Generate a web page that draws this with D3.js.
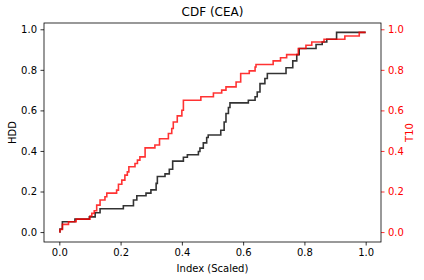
<!DOCTYPE html>
<html>
<head>
<meta charset="utf-8">
<script src="https://cdn.jsdelivr.net/npm/d3@7"></script>
<style>
  body { margin: 0; background: #fff; }
  svg { font-family: 'DejaVu Sans', sans-serif; }
</style>
</head>
<body>
<div id="chart"></div>
<script>
// step CDF points (x = scaled index, y = cumulative share)
const hddX = [0.0, 0.002, 0.01, 0.051, 0.098, 0.117, 0.133, 0.209, 0.242, 0.253, 0.283, 0.299, 0.316, 0.32, 0.345, 0.359, 0.37, 0.405, 0.418, 0.454, 0.459, 0.47, 0.481, 0.486, 0.527, 0.538, 0.544, 0.552, 0.557, 0.617, 0.639, 0.646, 0.655, 0.671, 0.679, 0.74, 0.762, 0.775, 0.783, 0.838, 0.858, 0.873, 0.905, 1.0]
const hddY = [0.0, 0.015, 0.051, 0.064, 0.075, 0.095, 0.115, 0.13, 0.158, 0.179, 0.192, 0.208, 0.24, 0.274, 0.287, 0.31, 0.35, 0.369, 0.381, 0.397, 0.414, 0.44, 0.466, 0.479, 0.502, 0.543, 0.585, 0.614, 0.637, 0.65, 0.667, 0.691, 0.732, 0.757, 0.782, 0.81, 0.844, 0.875, 0.905, 0.925, 0.937, 0.951, 0.985, 0.985]

const t10X = [0.0, 0.002, 0.01, 0.03, 0.055, 0.1, 0.106, 0.114, 0.122, 0.133, 0.149, 0.155, 0.187, 0.193, 0.204, 0.214, 0.222, 0.227, 0.247, 0.255, 0.263, 0.28, 0.312, 0.327, 0.356, 0.367, 0.372, 0.385, 0.4, 0.405, 0.462, 0.503, 0.53, 0.544, 0.577, 0.592, 0.62, 0.639, 0.642, 0.698, 0.722, 0.742, 0.78, 0.805, 0.824, 0.864, 0.932, 0.979, 1.0]
const t10Y = [0.0, 0.013, 0.038, 0.051, 0.064, 0.079, 0.092, 0.105, 0.133, 0.158, 0.174, 0.192, 0.207, 0.236, 0.256, 0.281, 0.297, 0.322, 0.338, 0.355, 0.371, 0.415, 0.429, 0.46, 0.486, 0.511, 0.543, 0.573, 0.601, 0.65, 0.667, 0.686, 0.7, 0.716, 0.74, 0.782, 0.795, 0.814, 0.826, 0.844, 0.86, 0.875, 0.905, 0.921, 0.937, 0.951, 0.967, 0.985, 0.985]

const xTicks = [0, 0.2, 0.4, 0.6, 0.8, 1.0]
const yTicks = [0, 0.2, 0.4, 0.6, 0.8, 1.0]

const W = 424, H = 280
const margin = { top: 23, right: 43, bottom: 38, left: 44 }
const width = W - margin.left - margin.right
const height = H - margin.top - margin.bottom

const svg = d3.select('#chart').append('svg')
    .attr('width', W)
    .attr('height', H)

const g = svg.append('g')
    .attr('transform', `translate(${margin.left},${margin.top})`)

let x = d3.scaleLinear().domain([-0.05, 1.05]).range([0, width])
let yL = d3.scaleLinear().domain([-0.049, 1.031]).range([height, 0])
let yR = d3.scaleLinear().domain([-0.049, 1.031]).range([height, 0])

const fmt = d3.format('.1f')

// lines
const hdd = hddX.map((v, i) => [v, hddY[i]])
const t10 = t10X.map((v, i) => [v, t10Y[i]])

const lineL = d3.line().x(d => x(d[0])).y(d => yL(d[1])).curve(d3.curveStepAfter)
const lineR = d3.line().x(d => x(d[0])).y(d => yR(d[1])).curve(d3.curveStepAfter)

g.append('path').datum(hdd)
    .attr('d', lineL)
    .attr('fill', 'none')
    .attr('stroke', 'black')
    .attr('stroke-opacity', 0.8)
    .attr('stroke-width', 1.6)

g.append('path').datum(t10)
    .attr('d', lineR)
    .attr('fill', 'none')
    .attr('stroke', 'red')
    .attr('stroke-opacity', 0.8)
    .attr('stroke-width', 1.6)

// axes
let bottomAxis = d3.axisBottom(x).tickValues(xTicks).tickFormat(fmt).tickSizeOuter(0).tickSize(3.5).tickPadding(3.5)
let leftAxis = d3.axisLeft(yL).tickValues(yTicks).tickFormat(fmt).tickSizeOuter(0).tickSize(3.5).tickPadding(3.5)
let rightAxis = d3.axisRight(yR).tickValues(yTicks).tickFormat(fmt).tickSizeOuter(0).tickSize(3.5).tickPadding(3.5)

const gx = g.append('g').attr('transform', `translate(0,${height})`).call(bottomAxis)
const gl = g.append('g').call(leftAxis)
const gr = g.append('g').attr('transform', `translate(${width},0)`).call(rightAxis)

;[gx, gl, gr].forEach(a => {
    a.selectAll('text').attr('font-size', 10).attr('font-family', 'DejaVu Sans')
    a.selectAll('line').attr('stroke-width', 0.8)
    a.select('.domain').remove()
})
gx.selectAll('text').attr('fill', '#000')
gl.selectAll('text').attr('fill', '#000')
gr.selectAll('text').attr('fill', 'red')
gr.selectAll('line').attr('stroke', 'red')

// frame
g.append('rect')
    .attr('width', width)
    .attr('height', height)
    .attr('fill', 'none')
    .attr('stroke', 'black')
    .attr('stroke-width', 0.8)

// labels
svg.append('text')
    .attr('x', margin.left + width / 2)
    .attr('y', 16)
    .attr('text-anchor', 'middle')
    .attr('font-size', 12)
    .text('CDF (CEA)')

svg.append('text')
    .attr('x', margin.left + width / 2)
    .attr('y', 272)
    .attr('text-anchor', 'middle')
    .attr('font-size', 10)
    .text('Index (Scaled)')

svg.append('text')
    .attr('transform', `translate(16,${margin.top + height / 2}) rotate(-90)`)
    .attr('text-anchor', 'middle')
    .attr('font-size', 10)
    .text('HDD')

svg.append('text')
    .attr('transform', `translate(413,${margin.top + height / 2}) rotate(-90)`)
    .attr('text-anchor', 'middle')
    .attr('font-size', 10)
    .attr('fill', 'red')
    .text('T10')
</script>
</body>
</html>
